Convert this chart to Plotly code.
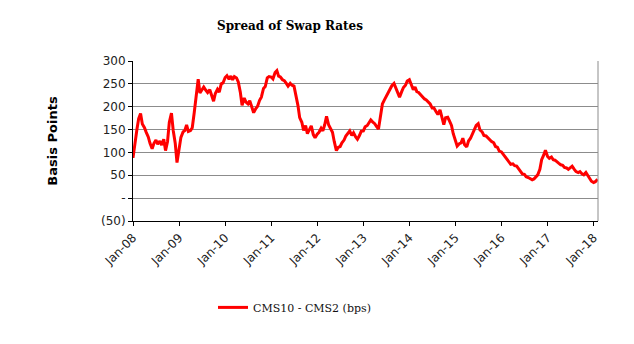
import pandas as pd
import plotly.graph_objects as go

# Semi-monthly observations (1st and 15th of each month), basis points
y2008 = [88, 120, 150, 174, 185, 162, 154, 144, 134, 120, 108, 120,
         127, 118, 125, 116, 129, 104, 124, 166, 186, 148, 120, 78]
y2009 = [112, 133, 145, 148, 160, 146, 148, 154, 188, 222, 260, 230,
         238, 243, 236, 231, 237, 224, 212, 229, 238, 232, 250, 252]
y2010 = [264, 268, 260, 267, 259, 266, 263, 254, 232, 203, 219, 210,
         206, 213, 198, 187, 196, 201, 214, 221, 240, 244, 263, 266]
y2011 = [265, 261, 275, 279, 267, 265, 259, 257, 251, 245, 251, 247,
         245, 229, 203, 176, 166, 148, 159, 141, 151, 158, 139, 132]
y2012 = [140, 144, 153, 147, 161, 179, 160, 151, 144, 124, 104, 111,
         113, 121, 127, 136, 141, 147, 137, 143, 134, 129, 137, 146]
y2013 = [147, 156, 159, 166, 171, 167, 163, 157, 151, 176, 206, 214,
         223, 229, 239, 246, 251, 240, 231, 221, 233, 242, 247, 256]
y2014 = [259, 249, 237, 243, 233, 231, 225, 222, 217, 215, 209, 206,
         197, 197, 189, 183, 193, 179, 161, 176, 177, 169, 159, 141]
y2015 = [127, 114, 119, 121, 131, 117, 112, 125, 131, 141, 151, 159,
         163, 149, 145, 137, 136, 132, 129, 124, 121, 113, 111, 103]
y2016 = [101, 96, 91, 85, 80, 74, 75, 71, 70, 65, 60, 53,
         52, 47, 45, 43, 40, 42, 46, 51, 63, 84, 94, 105]
y2017 = [91, 87, 90, 84, 83, 79, 76, 73, 72, 67, 66, 63,
         68, 70, 63, 58, 56, 58, 53, 51, 56, 49, 43, 37]
y2018 = [34, 36, 41]

spread = (y2008 + y2009 + y2010 + y2011 + y2012 + y2013 + y2014
          + y2015 + y2016 + y2017 + y2018)
dates = pd.date_range("2008-01-01", periods=len(spread), freq="SMS")

tick_dates = [f"{yr}-01-01" for yr in range(2008, 2019)]
tick_text = [f"Jan-{yr % 100:02d}" for yr in range(2008, 2019)]
y_vals = [-50, 0, 50, 100, 150, 200, 250, 300]
y_text = ["(50)", "-", "50", "100", "150", "200", "250", "300"]

fig = go.Figure()
fig.add_trace(go.Scatter(
    x=dates, y=spread, mode="lines",
    name="CMS10 - CMS2 (bps)",
    line=dict(color="#ff0000", width=3),
))

fig.update_layout(
    width=634, height=344,
    margin=dict(l=133, r=36, t=61, b=123),
    paper_bgcolor="white", plot_bgcolor="white",
    font=dict(family="DejaVu Sans", size=12, color="#222"),
    showlegend=True,
    legend=dict(
        orientation="h", x=0.172, xanchor="left", y=-0.54, yanchor="middle",
        font=dict(family="DejaVu Serif", size=11, color="#111"),
        bgcolor="rgba(0,0,0,0)",
    ),
    xaxis=dict(
        range=["2008-01-01", "2018-02-05"],
        tickvals=tick_dates, ticktext=tick_text, tickangle=-45,
        showgrid=False, zeroline=False,
        showline=True, linecolor="black", linewidth=1,
        ticks="outside", ticklen=4, tickcolor="black",
        tickfont=dict(family="DejaVu Sans", size=12, color="#222"),
    ),
    yaxis=dict(
        range=[-50, 300], tickvals=y_vals, ticktext=y_text,
        showgrid=True, gridcolor="#8c8c8c", gridwidth=1, zeroline=False,
        showline=True, linecolor="black", linewidth=1,
        ticks="outside", ticklen=4, tickcolor="black",
        tickfont=dict(family="DejaVu Sans", size=12, color="#222"),
    ),
    annotations=[
        dict(text="<b>Spread of Swap Rates</b>", xref="paper", yref="paper",
             x=0.338, y=1.22, xanchor="center", yanchor="middle",
             showarrow=False,
             font=dict(family="DejaVu Serif", size=12, color="black")),
        dict(text="<b>Basis Points</b>", xref="paper", yref="paper",
             x=-0.175, y=0.5, xanchor="center", yanchor="middle",
             textangle=-90, showarrow=False,
             font=dict(family="DejaVu Sans", size=13, color="black")),
    ],
    shapes=[
        dict(type="line", xref="paper", yref="paper", x0=1, x1=1, y0=0, y1=1,
             line=dict(color="#8c8c8c", width=1)),
    ],
)

fig.write_html("out.html")
